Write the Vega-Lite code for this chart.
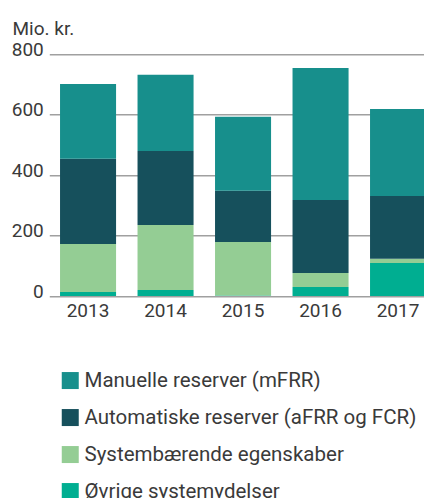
{
  "$schema": "https://vega.github.io/schema/vega-lite/v6.json",
  "autosize": {"type": "none"},
  "width": 374.7,
  "height": 241.7,
  "padding": {"left": 49.3, "top": 54.3, "right": 0, "bottom": 202},
  "background": "white",
  "data": {
    "values": [
      {"year": "2013", "type": "Øvrige systemydelser", "ord": 1, "value": 13},
      {"year": "2013", "type": "Systembærende egenskaber", "ord": 2, "value": 159},
      {"year": "2013", "type": "Automatiske reserver (aFRR og FCR)", "ord": 3, "value": 282},
      {"year": "2013", "type": "Manuelle reserver (mFRR)", "ord": 4, "value": 248},
      {"year": "2014", "type": "Øvrige systemydelser", "ord": 1, "value": 20},
      {"year": "2014", "type": "Systembærende egenskaber", "ord": 2, "value": 215},
      {"year": "2014", "type": "Automatiske reserver (aFRR og FCR)", "ord": 3, "value": 245},
      {"year": "2014", "type": "Manuelle reserver (mFRR)", "ord": 4, "value": 252},
      {"year": "2015", "type": "Øvrige systemydelser", "ord": 1, "value": 2},
      {"year": "2015", "type": "Systembærende egenskaber", "ord": 2, "value": 177},
      {"year": "2015", "type": "Automatiske reserver (aFRR og FCR)", "ord": 3, "value": 169},
      {"year": "2015", "type": "Manuelle reserver (mFRR)", "ord": 4, "value": 245},
      {"year": "2016", "type": "Øvrige systemydelser", "ord": 1, "value": 30},
      {"year": "2016", "type": "Systembærende egenskaber", "ord": 2, "value": 46},
      {"year": "2016", "type": "Automatiske reserver (aFRR og FCR)", "ord": 3, "value": 242},
      {"year": "2016", "type": "Manuelle reserver (mFRR)", "ord": 4, "value": 437},
      {"year": "2017", "type": "Øvrige systemydelser", "ord": 1, "value": 109},
      {"year": "2017", "type": "Systembærende egenskaber", "ord": 2, "value": 14},
      {"year": "2017", "type": "Automatiske reserver (aFRR og FCR)", "ord": 3, "value": 208},
      {"year": "2017", "type": "Manuelle reserver (mFRR)", "ord": 4, "value": 288}
    ]
  },
  "config": {
    "view": {"stroke": null},
    "font": "Roboto",
    "axis": {"labelFont": "Roboto", "titleFont": "Roboto"},
    "legend": {"labelFont": "Roboto"}
  },
  "mark": {"type": "bar"},
  "encoding": {
    "x": {
      "field": "year",
      "type": "ordinal",
      "scale": {"range": [0, 387.5], "paddingInner": 0.277, "paddingOuter": 0.1385},
      "axis": {
        "title": null,
        "domain": false,
        "ticks": false,
        "labelAngle": 0,
        "labelFontSize": 19,
        "labelColor": "#3a3a3a",
        "labelPadding": 5,
        "labelBaseline": "top"
      }
    },
    "y": {
      "field": "value",
      "type": "quantitative",
      "stack": "zero",
      "scale": {"domain": [0, 800], "nice": false},
      "axis": {
        "values": [0, 200, 400, 600, 800],
        "domain": false,
        "ticks": false,
        "grid": true,
        "gridColor": "#a0a0a0",
        "gridWidth": 1.5,
        "labelFontSize": 19,
        "labelColor": "#3a3a3a",
        "labelPadding": 6,
        "labelBaseline": "alphabetic",
        "labelOffset": 1,
        "title": "Mio. kr.",
        "titleAngle": 0,
        "titleAlign": "left",
        "titleBaseline": "alphabetic",
        "titleX": -37.3,
        "titleY": -20,
        "titleFontSize": 19,
        "titleFontWeight": "normal",
        "titleColor": "#3a3a3a"
      }
    },
    "color": {
      "field": "type",
      "type": "nominal",
      "scale": {
        "domain": ["Manuelle reserver (mFRR)", "Automatiske reserver (aFRR og FCR)", "Systembærende egenskaber", "Øvrige systemydelser"],
        "range": ["#178f8c", "#16505c", "#94cd94", "#00ae91"]
      },
      "legend": {
        "title": null,
        "orient": "none",
        "legendX": 10.7,
        "legendY": 316,
        "direction": "vertical",
        "symbolType": "square",
        "symbolSize": 289,
        "symbolStrokeWidth": 0,
        "labelFontSize": 20.5,
        "labelColor": "#3a3a3a",
        "labelOffset": 4,
        "rowPadding": 16,
        "labelLimit": 400
      }
    },
    "order": {"field": "ord", "type": "quantitative", "sort": "ascending"}
  }
}
